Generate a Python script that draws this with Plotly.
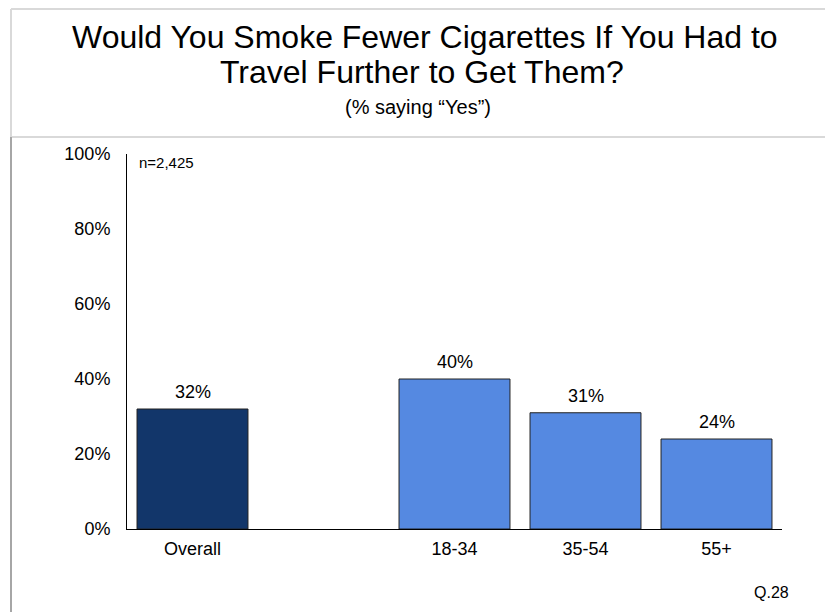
import plotly.graph_objects as go

# Survey results: share answering "Yes"
categories = ["Overall", "18-34", "35-54", "55+"]
values = [32, 40, 31, 24]
bar_colors = ["#12366A", "#5589E1", "#5589E1", "#5589E1"]
# Category order on the axis, with an empty slot separating the total from the age groups
axis_order = ["Overall", " ", "18-34", "35-54", "55+"]
y_ticks = [0, 20, 40, 60, 80, 100]
y_tick_labels = [f"{t}%" for t in y_ticks]

title_lines = ["Would You Smoke Fewer Cigarettes If You Had to", "Travel Further to Get Them?"]
subtitle = "(% saying \u201cYes\u201d)"
base_note = "n=2,425"
question_ref = "Q.28"

W, H = 825, 612
L, R, T, B = 127, 782, 154, 529  # plot area in pixels
FONT = "Liberation Sans, Arial, sans-serif"


def px_x(px):
    return (px - L) / (R - L)


def px_y(py):
    return (B - py) / (B - T)


fig = go.Figure()
fig.add_trace(go.Bar(
    x=categories,
    y=values,
    marker=dict(color=bar_colors, line=dict(color="#222222", width=1)),
    hoverinfo="skip",
))

shapes = [
    # frame around the heading and left edge
    dict(type="line", xref="paper", yref="paper", x0=px_x(11), x1=px_x(W), y0=px_y(9), y1=px_y(9),
         line=dict(color="#D9D9D9", width=2)),
    dict(type="line", xref="paper", yref="paper", x0=px_x(11), x1=px_x(W), y0=px_y(137), y1=px_y(137),
         line=dict(color="#D9D9D9", width=2)),
    dict(type="line", xref="paper", yref="paper", x0=px_x(11), x1=px_x(11), y0=px_y(9), y1=px_y(137),
         line=dict(color="#D9D9D9", width=2)),
    dict(type="line", xref="paper", yref="paper", x0=px_x(11), x1=px_x(11), y0=px_y(137), y1=px_y(H),
         line=dict(color="#A6A6A6", width=2)),
]

annotations = [
    dict(text=title_lines[0], x=px_x(425), y=px_y(37), font=dict(family=FONT, size=32, color="#000000")),
    dict(text=title_lines[1], x=px_x(422), y=px_y(72), font=dict(family=FONT, size=32, color="#000000")),
    dict(text=subtitle, x=px_x(418), y=px_y(107), font=dict(family=FONT, size=20, color="#000000")),
    dict(text=base_note, x=px_x(137), y=px_y(162), xanchor="left",
         font=dict(family=FONT, size=15, color="#000000")),
    dict(text=question_ref, x=px_x(771), y=px_y(592), font=dict(family=FONT, size=16, color="#000000")),
]
for a in annotations:
    a.update(xref="paper", yref="paper", showarrow=False)
    a.setdefault("xanchor", "center")
    a.setdefault("yanchor", "middle")

# value labels sitting above each bar, placed at the bar's own value
for cat, v in zip(categories, values):
    annotations.append(dict(
        text=f"{v}%", x=cat, y=v, xref="x", yref="y",
        xanchor="center", yanchor="bottom", yshift=5, showarrow=False,
        font=dict(family=FONT, size=18, color="#000000"),
    ))

fig.update_layout(
    width=W, height=H,
    margin=dict(l=L, r=W - R, t=T, b=H - B, pad=0),
    paper_bgcolor="#FFFFFF",
    plot_bgcolor="#FFFFFF",
    showlegend=False,
    bargap=0.153,
    shapes=shapes,
    annotations=annotations,
    font=dict(family=FONT, size=18, color="#000000"),
    xaxis=dict(
        type="category",
        categoryorder="array",
        categoryarray=axis_order,
        range=[-0.5, len(axis_order) - 0.5],
        showline=True, linecolor="#000000", linewidth=1,
        showgrid=False, zeroline=False, ticks="",
        ticklabelstandoff=3,
        tickfont=dict(family=FONT, size=18, color="#000000"),
        fixedrange=True,
    ),
    yaxis=dict(
        range=[0, 100],
        tickvals=y_ticks,
        ticktext=y_tick_labels,
        showline=True, linecolor="#000000", linewidth=1,
        showgrid=False, zeroline=False, ticks="",
        ticklabelstandoff=12,
        tickfont=dict(family=FONT, size=18, color="#000000"),
        fixedrange=True,
    ),
)

fig.write_html("out.html", config={"displayModeBar": False})
